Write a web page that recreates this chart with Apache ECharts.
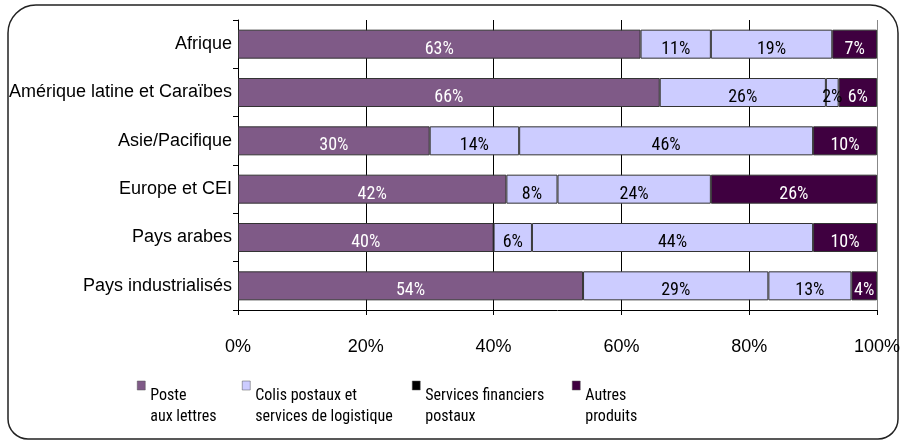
<!DOCTYPE html>
<html>
<head>
<meta charset="utf-8">
<script src="https://cdn.jsdelivr.net/npm/echarts@6/dist/echarts.min.js"></script>
<style>
  html, body { margin: 0; padding: 0; background: #fff; }
  #chart { width: 904px; height: 445px; }
</style>
</head>
<body>
<div id="chart"></div>
<script>
var regions = ['Afrique', 'Amérique latine et Caraïbes', 'Asie/Pacifique', 'Europe et CEI', 'Pays arabes', 'Pays industrialisés'];
var seriesNames = ['Poste\naux lettres', 'Colis postaux et\nservices de logistique', 'Services financiers\npostaux', 'Autres\nproduits'];
var poste = [63, 66, 30, 42, 40, 54];
var colis = [11, 26, 14, 8, 6, 29];
var financiers = [19, 2, 46, 24, 44, 13];
var autres = [7, 6, 10, 26, 10, 4];
var xTicks = [0, 20, 40, 60, 80, 100];

var barColors = ['#7f5a87', '#ccccff', '#ccccff', '#3f0040'];
var legendColors = ['#7f5a87', '#ccccff', '#000000', '#3f0040'];
var labelColors = ['#ffffff', '#000000', '#000000', '#ffffff'];
var legendLeft = [132, 237, 407, 567];
var values = [poste, colis, financiers, autres];

var narrow = 'Roboto Condensed, Liberation Sans, sans-serif';
var regular = 'Liberation Sans, Arial, sans-serif';

var chart = echarts.init(document.getElementById('chart'));

var series = values.map(function (vals, i) {
    return {
        name: seriesNames[i],
        type: 'bar',
        stack: 'total',
        barWidth: '60%',
        data: vals,
        itemStyle: { color: barColors[i], borderColor: '#333', borderWidth: 1 },
        label: {
            show: true,
            position: 'inside',
            offset: [0, 5],
            formatter: '{c}%',
            color: labelColors[i],
            fontFamily: narrow,
            fontSize: 18
        }
    };
});

// legend text hangs below the icon, as in the original
var legends = seriesNames.map(function (name, i) {
    return {
        left: legendLeft[i],
        top: 359,
        orient: 'vertical',
        itemWidth: 8,
        itemHeight: 9,
        itemGap: 0,
        icon: 'rect',
        selectedMode: false,
        data: [{ name: name, itemStyle: { color: legendColors[i], borderColor: '#555', borderWidth: 0.5 } }],
        formatter: function (n) {
            return '{s| }\n' + n.split('\n').map(function (l) { return '{t|' + l + '}'; }).join('\n');
        },
        textStyle: {
            rich: {
                s: { fontSize: 1, lineHeight: 41 },
                t: { fontFamily: narrow, fontSize: 16, lineHeight: 21, color: '#000' }
            }
        }
    };
});

var option = {
    animation: false,
    graphic: [{
        type: 'rect',
        shape: { x: 8, y: 5, width: 890, height: 434, r: [28, 28, 20, 20] },
        style: { fill: 'none', stroke: '#222', lineWidth: 1.5 },
        silent: true
    }],
    grid: { left: 238, right: 27, top: 20, bottom: 135 },
    xAxis: {
        type: 'value',
        min: xTicks[0],
        max: xTicks[xTicks.length - 1],
        interval: 20,
        axisLine: { show: true, lineStyle: { color: '#000' } },
        axisTick: { show: true, length: 5, lineStyle: { color: '#000' } },
        axisLabel: {
            formatter: '{value}%',
            margin: 28,
            fontFamily: regular,
            fontSize: 18,
            color: '#000'
        },
        splitLine: { show: true, lineStyle: { color: ['#000', '#000', '#000', '#000', '#000', '#888'], width: 1 } }
    },
    yAxis: {
        type: 'category',
        data: regions,
        inverse: true,
        axisLine: { show: true, lineStyle: { color: '#000' } },
        axisTick: { show: true, length: 5, lineStyle: { color: '#000' } },
        axisLabel: {
            margin: 6,
            fontFamily: regular,
            fontSize: 18,
            color: '#000'
        }
    },
    legend: legends,
    series: series
};

chart.setOption(option);
</script>
</body>
</html>
